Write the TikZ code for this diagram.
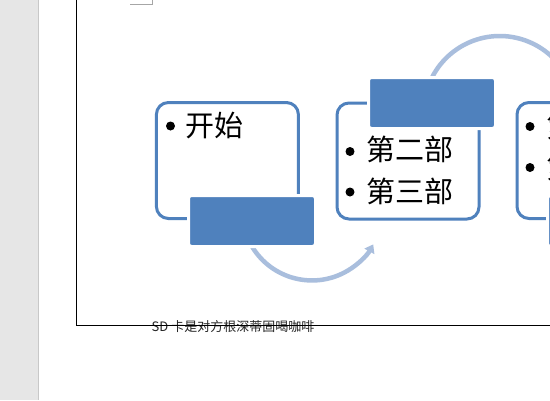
\documentclass[tikz,border=0pt]{standalone}
\usepackage{fontspec}
\newfontfamily\cjk{Noto Sans CJK SC}
\usetikzlibrary{arrows.meta}
\definecolor{boxblue}{HTML}{4F81BD}
\definecolor{arcblue}{HTML}{A9BEDD}
\definecolor{sidegray}{HTML}{E6E6E6}
\definecolor{sideedge}{HTML}{C8C8C8}
\definecolor{markgray}{HTML}{A6A6A6}
\begin{document}
\begin{tikzpicture}[x=1pt,y=-1pt,
 listbox/.style={draw=boxblue, line width=3pt, rounded corners=12pt, minimum width=142pt, minimum height=116pt, inner sep=0pt},
 titlebar/.style={fill=boxblue, draw=white, line width=3pt, rounded corners=3pt, minimum width=127pt, minimum height=51pt, inner sep=0pt},
 flowarc/.style={draw=arcblue, line width=4.5pt},
 itemtext/.style={anchor=base west, inner sep=0pt, font=\cjk\fontsize{29}{34}\selectfont},
 bulletdot/.style={fill=black},
 pageline/.style={draw=black, line width=1.3pt}]

\useasboundingbox (0,0) rectangle (550,400);
\clip (0,0) rectangle (550,400);
\fill[white] (0,0) rectangle (550,400);
\fill[sidegray] (0,0) rectangle (38,400);
\draw[sideedge, line width=1pt] (38.5,0) -- (38.5,400);
\draw[markgray, line width=0.8pt] (130,4.5) -- (152,4.5) -- (152,-1);

% list boxes
\node[listbox] (b1) at (227.4,160.5) {};
\node[listbox] (b2) at (408,161) {};
\node[listbox] (b3) at (588,160.5) {};

% arcs
\path (252,246.5) coordinate (a1s);
\draw[flowarc, -{Triangle[length=8pt,width=11pt]}] (a1s) arc[start angle=149, end angle=29, radius=70];
\path (432,77.5) coordinate (a2s);
\draw[flowarc] (a2s) arc[start angle=207, end angle=335, radius=76];

% title bars
\node[titlebar] (r1) at (252,221) {};
\node[titlebar] (r2) at (432,103) {};
\node[titlebar] (r3) at (611,221) {};

% bullets
\fill[bulletdot] (170.5,126) circle[radius=4.5pt];
\fill[bulletdot] (350,151.5) circle[radius=4.5pt];
\fill[bulletdot] (350,192) circle[radius=4.5pt];
\fill[bulletdot] (530,126.5) circle[radius=4.5pt];
\fill[bulletdot] (530,167.5) circle[radius=4.5pt];

% texts
\node[itemtext] (t1) at (185,136.5) {开始};
\node[itemtext] (t2a) at (366,160.5) {第二部};
\node[itemtext] (t2b) at (366,202.3) {第三部};
\node[itemtext] (t3a) at (546.5,137) {第四部};
\node[itemtext] (t3b) at (546.5,178) {第五部};

\node[anchor=base west, inner sep=0pt, font=\cjk\fontsize{13}{15}\selectfont, text=black!85] (caption) at (151.5,331.5) {SD 卡是对方根深蒂固喝咖啡};

% page border
\draw[pageline] (76.7,0) -- (76.7,325.7) -- (550,325.7);
\end{tikzpicture}
\end{document}
